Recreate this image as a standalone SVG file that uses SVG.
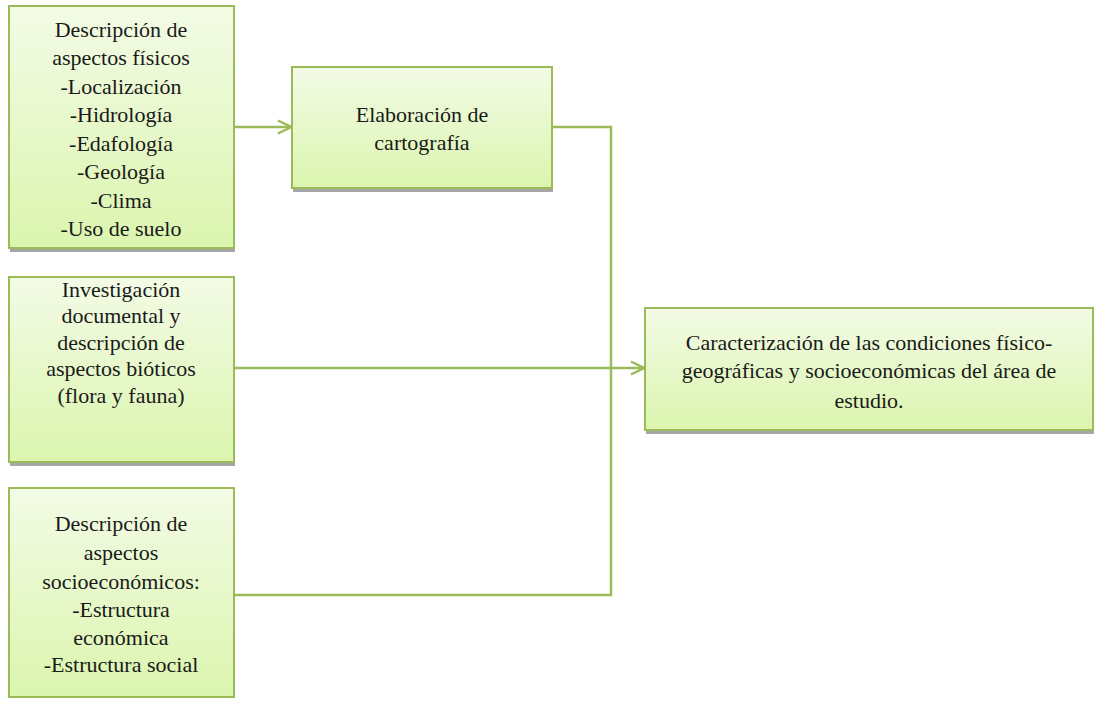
<svg xmlns="http://www.w3.org/2000/svg" width="1102" height="701" viewBox="0 0 1102 701">
<defs>
<linearGradient id="g" x1="0" y1="0" x2="0" y2="1">
<stop offset="0" stop-color="#f3fbe6"/>
<stop offset="1" stop-color="#dbf5ae"/>
</linearGradient>
<marker id="arr" viewBox="0 0 16 16" refX="15" refY="8" markerWidth="16" markerHeight="16" markerUnits="userSpaceOnUse" orient="auto">
<path d="M2,1.5 L15,8 L2,14.5" fill="none" stroke="#9bbb59" stroke-width="2.5"/>
</marker>
</defs>
<style>
.box{fill:url(#g);stroke:#9bbb59;stroke-width:2}
.sh{fill:#a6a6a6}
.t{font-family:"Liberation Serif","DejaVu Serif",serif;font-size:22px;fill:#1a1a1a;text-anchor:middle}
.c{fill:none;stroke:#9bbb59;stroke-width:2.5}
</style>
<rect width="1102" height="701" fill="#fff"/>
<g id="connectors">
<path class="c" d="M234,127 H291" marker-end="url(#arr)"/>
<path class="c" d="M552,127 H611 V595 H234"/>
<path class="c" d="M234,368 H644" marker-end="url(#arr)"/>
</g>
<g id="n1">
<rect class="sh" x="10" y="9" width="225" height="243"/>
<rect class="box" x="9" y="6" width="225" height="242"/>
<text class="t"><tspan x="121" y="37">Descripción de</tspan><tspan x="121" y="65">aspectos físicos</tspan><tspan x="121" y="94">-Localización</tspan><tspan x="121" y="122">-Hidrología</tspan><tspan x="121" y="151">-Edafología</tspan><tspan x="121" y="179">-Geología</tspan><tspan x="121" y="208">-Clima</tspan><tspan x="121" y="236">-Uso de suelo</tspan></text>
</g>
<g id="n2">
<rect class="sh" x="293" y="70" width="260" height="122"/>
<rect class="box" x="292" y="67" width="260" height="121"/>
<text class="t"><tspan x="422" y="122">Elaboración de</tspan><tspan x="422" y="150">cartografía</tspan></text>
</g>
<g id="n3">
<rect class="sh" x="10" y="280" width="225" height="186"/>
<rect class="box" x="9" y="277" width="225" height="185"/>
<text class="t"><tspan x="121" y="297">Investigación</tspan><tspan x="121" y="323">documental y</tspan><tspan x="121" y="350">descripción de</tspan><tspan x="121" y="376">aspectos bióticos</tspan><tspan x="121" y="403">(flora y fauna)</tspan></text>
</g>
<g id="n4">
<rect class="box" x="9" y="488" width="225" height="209"/>
<text class="t"><tspan x="121" y="531">Descripción de</tspan><tspan x="121" y="560">aspectos</tspan><tspan x="121" y="589">socioeconómicos:</tspan><tspan x="121" y="617">-Estructura</tspan><tspan x="121" y="645">económica</tspan><tspan x="121" y="672">-Estructura social</tspan></text>
</g>
<g id="n5">
<rect class="sh" x="646" y="311" width="448" height="123"/>
<rect class="box" x="645" y="308" width="448" height="122"/>
<text class="t"><tspan x="869" y="350">Caracterización de las condiciones físico-</tspan><tspan x="869" y="378">geográficas y socioeconómicas del área de</tspan><tspan x="869" y="408">estudio.</tspan></text>
</g>
</svg>
